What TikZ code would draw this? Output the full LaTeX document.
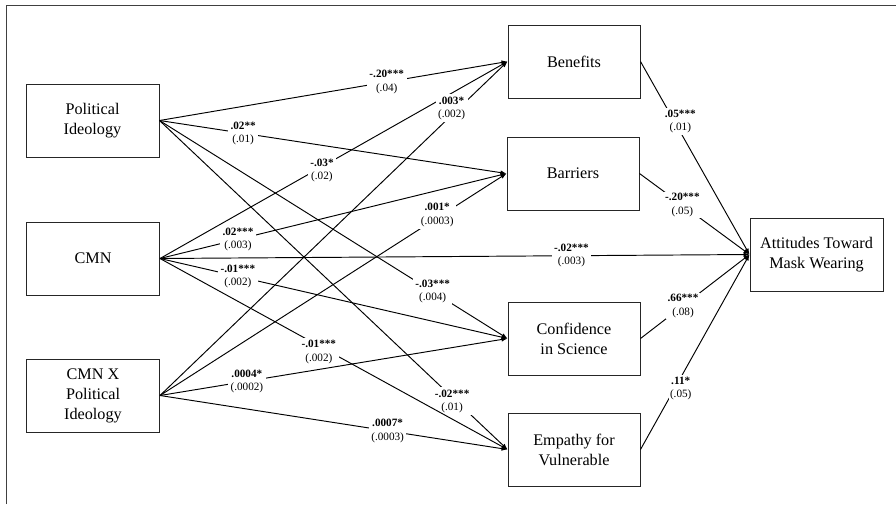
\documentclass[tikz,border=0pt]{standalone}
\usepackage{fontspec}
\setmainfont{Liberation Serif}
\usetikzlibrary{arrows.meta}
\begin{document}
\begin{tikzpicture}[x=1pt,y=-1pt,
  var/.style={draw=black!85, line width=1pt, minimum width=133pt, minimum height=73pt,
    align=center, font=\fontsize{16.2}{20}\selectfont, inner sep=0pt},
  path/.style={line width=0.95pt, -{Latex[length=6pt,width=4.5pt]}},
  coef/.style={fill=white, align=center, inner sep=2.5pt, font=\fontsize{11.2}{13.5}\selectfont},
  frame/.style={line width=1pt, draw=black!75}]
\useasboundingbox (0,0) rectangle (896,504);
\draw[frame] (6,504) -- (6,5) -- (896,5);
% boxes
\node[var] (pi) at (92.5,120.5) {Political\\Ideology};
\node[var] (cmn) at (93,258.5) {CMN};
\node[var] (cmnx) at (93,395.5) {CMN X\\Political\\Ideology};
\node[var, minimum width=132pt] (ben) at (574,61.5) {Benefits};
\node[var, minimum width=132pt] (bar) at (573,173.5) {Barriers};
\node[var, minimum width=132pt] (con) at (574,338.5) {Confidence\\in Science};
\node[var, minimum width=132pt] (emp) at (574,449.5) {Empathy for\\Vulnerable};
\node[var] (att) at (816.5,254.5) {Attitudes Toward\\Mask Wearing};
% anchor coordinates
\coordinate (piR) at (pi.east);
\coordinate (cmnR) at (cmn.east);
\coordinate (cmnxR) at (cmnx.east);
\coordinate (benL) at (ben.west);
\coordinate (barL) at (bar.west);
\coordinate (conL) at (con.west);
\coordinate (empL) at (emp.west);
\coordinate (attL) at (att.west);
% paths from Political Ideology
\draw[path] (piR) -- node[coef, pos=0.653] {\textbf{-.20***}\\(.04)} (benL);
\draw[path] (piR) -- node[coef, pos=0.241] {\textbf{.02**}\\(.01)} (barL);
\draw[path] (piR) -- node[coef, pos=0.785] {\textbf{-.03***}\\(.004)} (conL);
\draw[path] (piR) -- node[coef, pos=0.835, xshift=2pt, yshift=-6pt] {\textbf{-.02***}\\(.01)} (empL);
% paths from CMN
\draw[path] (cmnR) -- node[coef, pos=0.466, yshift=-4pt] {\textbf{-.03*}\\(.02)} (benL);
\draw[path] (cmnR) -- node[coef, pos=0.225] {\textbf{.02***}\\(.003)} (barL);
\draw[path] (cmnR) -- node[coef, pos=0.698] {\textbf{-.02***}\\(.003)} (attL);
\draw[path] (cmnR) -- node[coef, pos=0.224] {\textbf{-.01***}\\(.002)} (conL);
\draw[path] (cmnR) -- node[coef, pos=0.457, yshift=-6pt] {\textbf{-.01***}\\(.002)} (empL);
% paths from CMN X Political Ideology
\draw[path] (cmnxR) -- node[coef, pos=0.839, yshift=7pt] {\textbf{.003*}\\(.002)} (benL);
\draw[path] (cmnxR) -- node[coef, pos=0.80, yshift=3pt] {\textbf{.001*}\\(.0003)} (barL);
\draw[path] (cmnxR) -- node[coef, pos=0.25] {\textbf{.0004*}\\(.0002)} (conL);
\draw[path] (cmnxR) -- node[coef, pos=0.655] {\textbf{.0007*}\\(.0003)} (empL);
% mediators to outcome
\draw[path] (ben.east) -- node[coef, pos=0.31, xshift=6pt, inner sep=1.5pt] {\textbf{.05***}\\(.01)} (attL);
\draw[path] (bar.east) -- node[coef, pos=0.39, inner sep=1.5pt] {\textbf{-.20***}\\(.05)} (attL);
\draw[path] (con.east) -- node[coef, pos=0.39, inner sep=1.5pt] {\textbf{.66***}\\(.08)} (attL);
\draw[path] (emp.east) -- node[coef, pos=0.314, xshift=6pt, inner sep=1.5pt] {\textbf{.11*}\\(.05)} (attL);
\end{tikzpicture}
\end{document}
